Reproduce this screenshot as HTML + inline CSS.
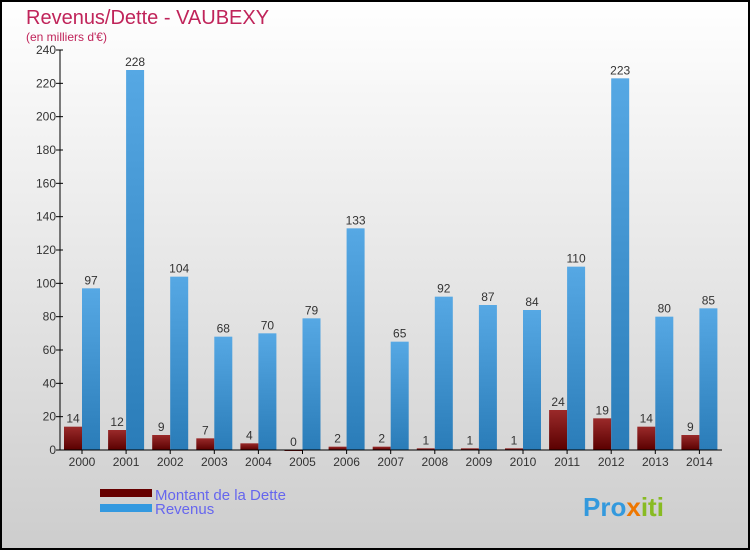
<!DOCTYPE html>
<html><head><meta charset="utf-8"><style>
html,body{margin:0;padding:0}
body{width:750px;height:550px;overflow:hidden;font-family:"Liberation Sans",sans-serif}
</style></head><body>
<svg width="750" height="550" xmlns="http://www.w3.org/2000/svg">
<defs>
<linearGradient id="bg" x1="0" y1="0" x2="0" y2="1"><stop offset="0" stop-color="#ffffff"/><stop offset="1" stop-color="#cdcdcd"/></linearGradient>
<linearGradient id="blue" x1="0" y1="0" x2="0" y2="1"><stop offset="0" stop-color="#56a8e4"/><stop offset="1" stop-color="#2a7cb8"/></linearGradient>
<linearGradient id="red" x1="0" y1="0" x2="0" y2="1"><stop offset="0" stop-color="#9a2a2a"/><stop offset="1" stop-color="#5a0000"/></linearGradient>
</defs>
<rect x="1" y="1" width="748" height="548" fill="url(#bg)" stroke="#000" stroke-width="2"/>
<text x="26" y="24" font-size="20" fill="#c0245a">Revenus/Dette - VAUBEXY</text>
<text x="26" y="41" font-size="12" fill="#c0245a">(en milliers d'€)</text>
<g id="plot"></g>
<rect x="100" y="489" width="52" height="8" fill="#660000"/>
<rect x="100" y="504" width="52" height="8" fill="#3399e0"/>
<text x="155" y="500" font-size="15" fill="#6666ee">Montant de la Dette</text>
<text x="155" y="514" font-size="15" fill="#6666ee">Revenus</text>
<text x="583" y="516" font-size="26" font-weight="bold" fill="#3399dd">Pro<tspan fill="#ee7700">x</tspan><tspan fill="#88bb22">iti</tspan></text>
</svg>
<script>
const years=["2000","2001","2002","2003","2004","2005","2006","2007","2008","2009","2010","2011","2012","2013","2014"];
const dette=[14,12,9,7,4,0,2,2,1,1,1,24,19,14,9];
const revenus=[97,228,104,68,70,79,133,65,92,87,84,110,223,80,85];
const yTicks=[0,20,40,60,80,100,120,140,160,180,200,220,240];
const NS="http://www.w3.org/2000/svg";
const g=document.getElementById('plot');
const y0=450,yTop=50,yMax=240,x0=60,step=44.1,bw=18;
const y=v=>y0-(v/yMax)*(y0-yTop);
const cx=i=>82+i*step;
function mk(t,a){const e=document.createElementNS(NS,t);for(const k in a)e.setAttribute(k,a[k]);g.appendChild(e);return e;}
yTicks.forEach(v=>{
  const l=mk('line',{x1:x0-4,x2:x0+3,y1:y(v),y2:y(v),stroke:'#000'});
  
  
  const t=mk('text',{x:x0-4,y:y(v)+4,'font-size':12,'text-anchor':'end',fill:'#333'});
  t.textContent=v;
  
  
});
years.forEach((yr,i)=>{
  const c=cx(i);
  const bd=mk('rect',{x:c-bw,y:y(dette[i]),width:bw,height:Math.max(y0-y(dette[i]),1),fill:'url(#red)'});
  
  
  const br=mk('rect',{x:c,y:y(revenus[i]),width:bw,height:y0-y(revenus[i]),fill:'url(#blue)'});
  
  
  const td=mk('text',{x:c-bw/2,y:y(dette[i])-4,'font-size':12,'text-anchor':'middle',fill:'#333'});
  td.textContent=dette[i];
  
  
  const tr=mk('text',{x:c+bw/2,y:y(revenus[i])-4,'font-size':12,'text-anchor':'middle',fill:'#333'});
  tr.textContent=revenus[i];
  
  
  const tk=mk('line',{x1:c,x2:c,y1:y0,y2:y0+4,stroke:'#000'});
  
  
  const tl=mk('text',{x:c,y:y0+16,'font-size':12,'text-anchor':'middle',fill:'#333'});
  tl.textContent=yr;
  
  
});
const ya=mk('line',{x1:x0,x2:x0,y1:yTop,y2:y0,stroke:'#000'});


const xa=mk('line',{x1:x0,x2:722,y1:y0,y2:y0,stroke:'#000'});


</script>
</body></html>
